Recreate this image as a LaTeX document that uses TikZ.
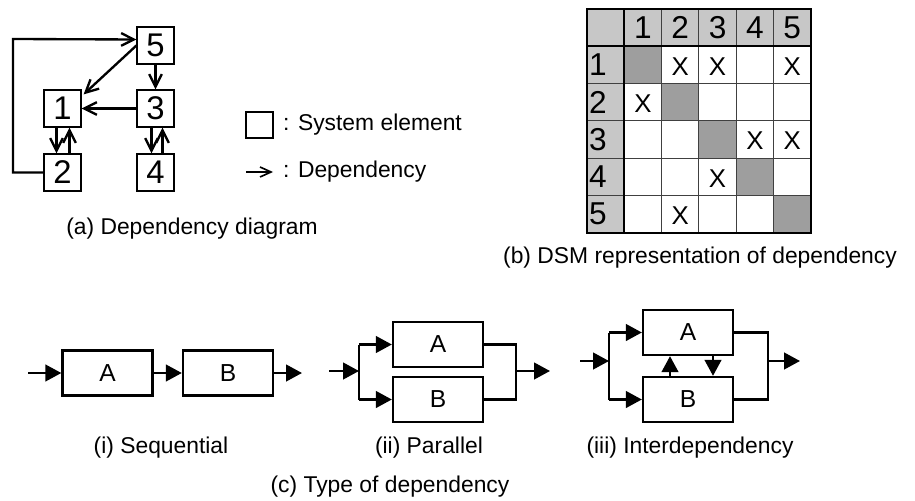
\documentclass[tikz,border=0pt]{standalone}
\usepackage{fontspec}
\setmainfont{Liberation Sans}
\usetikzlibrary{arrows.meta, calc}

\newcommand{\capfont}{\fontsize{19.5}{23}\selectfont}

\begin{document}
\begin{tikzpicture}[x=0.3mm, y=-0.3mm,
  % system element of the dependency diagram
  elem/.style   = {draw, line width=1.6pt, minimum width=10.9mm, minimum height=10.9mm,
                   inner sep=0, font=\fontsize{28}{30}\selectfont},
  % open-headed dependency arrow
  dep/.style    = {line width=2pt, -{Straight Barb[length=3.8mm, width=3.8mm]}},
  legdep/.style = {line width=1.4pt, -{Straight Barb[length=3.3mm, width=3mm]}},
  % captions and legend text
  captxt/.style = {font=\capfont, inner sep=0},
  % DSM cells and lines
  hdr/.style    = {fill=black!22},
  diag/.style   = {fill=black!38},
  gridln/.style = {line width=0.9pt, black!75},
  sepln/.style  = {line width=1.8pt},
  dsmnum/.style = {font=\fontsize{27}{29}\selectfont, inner sep=0},
  dsmx/.style   = {font=\fontsize{22}{24}\selectfont, inner sep=0},
  % process blocks of panel (c)
  blk/.style    = {draw, line width=2pt, minimum width=27mm, minimum height=13.5mm,
                   inner sep=0, font=\fontsize{21}{23}\selectfont},
  wire/.style   = {line width=2pt},
  flow/.style   = {wire, -{Triangle[length=4.8mm, width=5mm]}},
]
\useasboundingbox (0,0) rectangle (915,501);

% ═══════════════════════════
%  PANEL (a) – dependency diagram
% ═══════════════════
\node[elem] (n5) at (155.5,45.5)  {5};
\node[elem] (n1) at (62.5,108.5)  {1};
\node[elem] (n3) at (155.5,108.5) {3};
\node[elem] (n2) at (62.5,172.5)  {2};
\node[elem] (n4) at (155.5,172.5) {4};

% loop from 2 back round to 5
\coordinate (loopc) at (13,39);
\draw[dep] (n2.west) -| (loopc) -- ($(n5.west)+(0,-6)$);

\draw[dep] (n5.west) -- ($(n1.north east)+(2,5)$);
\draw[dep] (n5.south) -- (n3.north);
\draw[dep] (n3.west) -- (n1.east);
\draw[dep] ($(n1.south)+(-6,0)$) -- ($(n2.north)+(-6,0)$);
\draw[dep] ($(n2.north)+(7,0)$) -- ($(n1.south)+(7,0)$);
\draw[dep] ($(n3.south)+(-4,0)$) -- ($(n4.north)+(-4,0)$);
\draw[dep] ($(n4.north)+(7,0)$) -- ($(n3.south)+(7,0)$);

% legend
\node[draw, line width=1.2pt, minimum width=8.1mm, minimum height=7.8mm, inner sep=0]
  (legbox) at (259.5,125) {};
\node[captxt, anchor=west] (legboxtxt) at (283,125) {: System element};
\coordinate (legA) at (246,172);
\coordinate (legB) at (273,172);
\draw[legdep] (legA) -- (legB);
\node[captxt, anchor=west] (legdeptxt) at (283,172) {: Dependency};

\node[captxt] (capa) at (192,229) {(a) Dependency diagram};

% ═══════════════════════════
%  PANEL (b) – DSM
% ═══════════════════
\fill[hdr] (587,9) rectangle (811,46.3);
\fill[hdr] (587,9) rectangle (624.3,233);
\foreach \i in {1,...,5}
  \fill[diag] ({587+\i*37.3},{9+\i*37.3}) rectangle ++(37.3,37.3);

\foreach \i in {2,...,5} {
  \draw[gridln] ({587+\i*37.3},9) -- ({587+\i*37.3},233);
  \draw[gridln] (587,{9+\i*37.3}) -- (811,{9+\i*37.3});
}
\draw[sepln] (624.3,9) -- (624.3,233);
\draw[sepln] (587,46.3) -- (811,46.3);
\draw[sepln] (587,9) rectangle (811,233);

\foreach \i in {1,...,5} {
  \node[dsmnum] (colh\i) at ({587+(\i+0.5)*37.3},27.7) {\i};
  \node[dsmnum, anchor=west] (rowh\i) at (589,{9+(\i+0.5)*37.3}) {\i};
}
\foreach \r/\c in {1/2, 1/3, 1/5, 2/1, 3/4, 3/5, 4/3, 5/2}
  \node[dsmx] (x\r\c) at ({587+(\c+0.5)*37.3},{10.5+(\r+0.5)*37.3}) {X};

\node[captxt] (capb) at (700,258) {(b) DSM representation of dependency};

% ═══════════════════════════
%  PANEL (c) – types of dependency
% ═══════════════════
% (i) sequential
\node[blk] (sa) at (107.5,373) {A};
\node[blk] (sb) at (228,373)   {B};
\coordinate (sin)  at (28,373);
\coordinate (sout) at (302,373);
\draw[flow] (sin) -- (sa.west);
\draw[flow] (sa.east) -- (sb.west);
\draw[flow] (sb.east) -- (sout);
\node[captxt] (capi) at (161,448) {(i) Sequential};

% (ii) parallel
\node[blk] (pa) at (438,344.5) {A};
\node[blk] (pb) at (438,399.5) {B};
\coordinate (pin)    at (329,371);
\coordinate (psplit) at (359,371);
\coordinate (pjoin)  at (516,371);
\coordinate (pout)   at (550,371);
\draw[flow] (pin) -- (psplit);
\draw[wire] (psplit |- pa.west) -- (psplit |- pb.west);
\draw[flow] (psplit |- pa.west) -- (pa.west);
\draw[flow] (psplit |- pb.west) -- (pb.west);
\draw[wire] (pa.east) -| (pjoin) |- (pb.east);
\draw[flow] (pjoin) -- (pout);
\node[captxt] (capii) at (429,448) {(ii) Parallel};

% (iii) interdependency
\node[blk] (ia) at (688,332.5) {A};
\node[blk] (ib) at (688,399.5) {B};
\coordinate (iin)    at (580,361);
\coordinate (isplit) at (609,361);
\coordinate (ijoin)  at (768,361);
\coordinate (iout)   at (800,361);
\draw[flow] (iin) -- (isplit);
\draw[wire] (isplit |- ia.west) -- (isplit |- ib.west);
\draw[flow] (isplit |- ia.west) -- (ia.west);
\draw[flow] (isplit |- ib.west) -- (ib.west);
\draw[wire] (ia.east) -| (ijoin) |- (ib.east);
\draw[flow] (ijoin) -- (iout);
\draw[flow] ($(ib.north)+(-18,0)$) -- ($(ia.south)+(-18,0)$);
\draw[flow] ($(ia.south)+(25,0)$) -- ($(ib.north)+(25,0)$);
\node[captxt] (capiii) at (690,448) {(iii) Interdependency};

\node[captxt] (capc) at (390,487) {(c) Type of dependency};

\end{tikzpicture}
\end{document}
